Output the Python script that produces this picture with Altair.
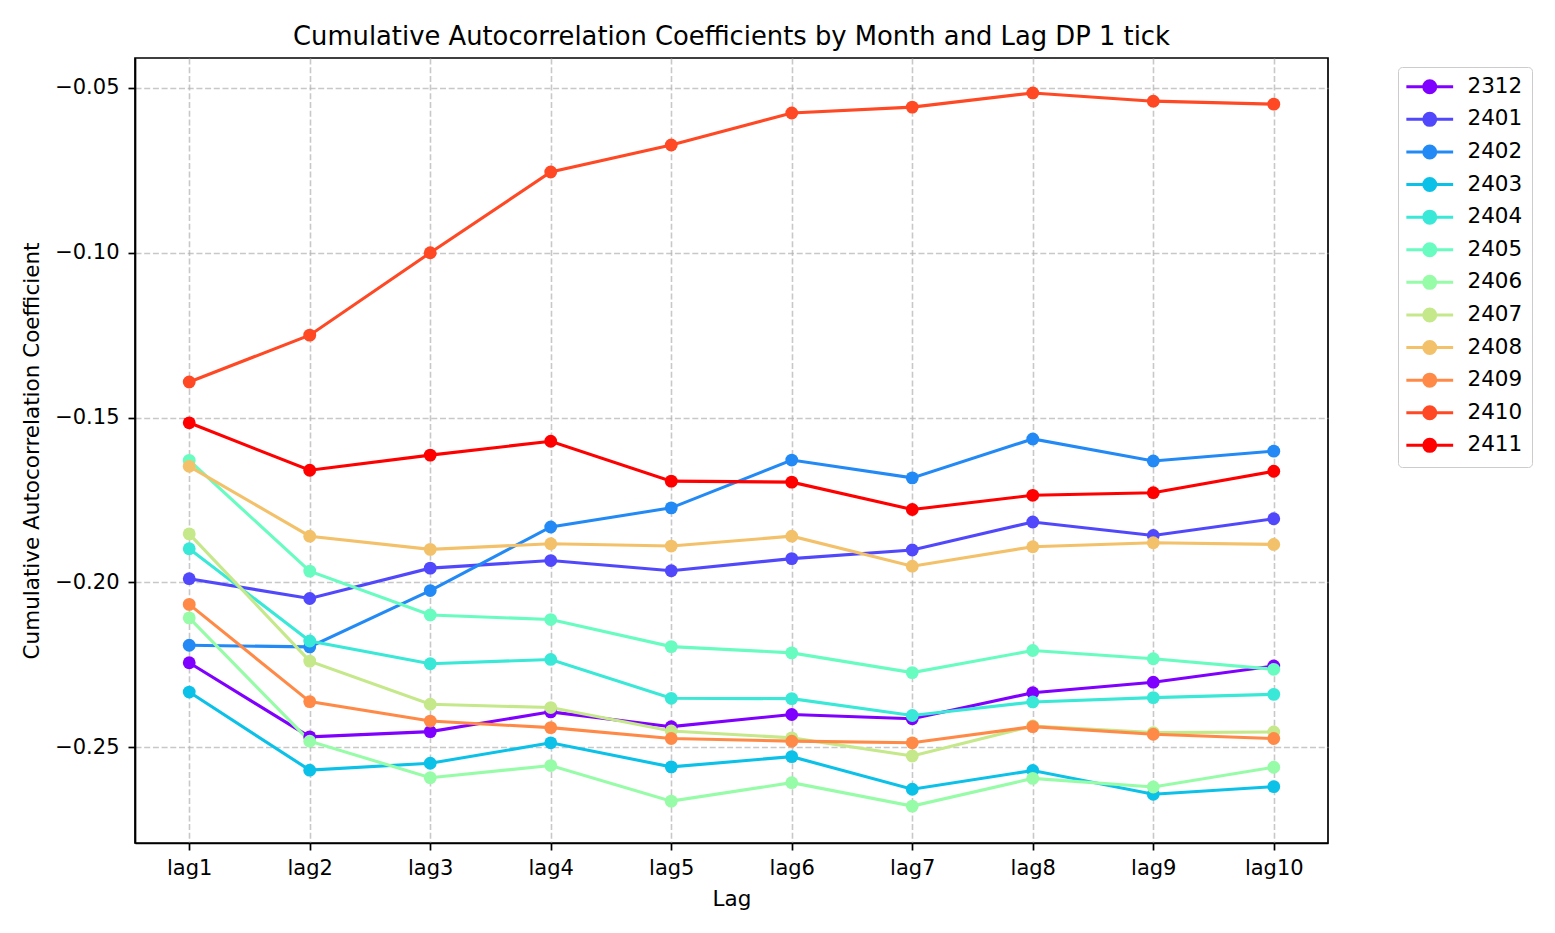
import altair as alt
import pandas as pd

months = ["2312", "2401", "2402", "2403", "2404", "2405",
          "2406", "2407", "2408", "2409", "2410", "2411"]
lags = ["lag1", "lag2", "lag3", "lag4", "lag5", "lag6", "lag7", "lag8", "lag9", "lag10"]

v2312 = [-0.2244, -0.2469, -0.2453, -0.2393, -0.2438, -0.2401, -0.2414, -0.2335, -0.2303, -0.2254]
v2401 = [-0.1989, -0.2049, -0.1957, -0.1934, -0.1965, -0.1928, -0.1902, -0.1817, -0.1858, -0.1807]
v2402 = [-0.2191, -0.2196, -0.2025, -0.1832, -0.1774, -0.1629, -0.1683, -0.1565, -0.1632, -0.1602]
v2403 = [-0.2333, -0.2570, -0.2549, -0.2487, -0.2560, -0.2529, -0.2628, -0.2571, -0.2643, -0.2620]
v2404 = [-0.1898, -0.2178, -0.2247, -0.2234, -0.2352, -0.2353, -0.2404, -0.2363, -0.2350, -0.2340]
v2405 = [-0.1630, -0.1966, -0.2099, -0.2113, -0.2195, -0.2214, -0.2274, -0.2207, -0.2232, -0.2264]
v2406 = [-0.2108, -0.2482, -0.2593, -0.2556, -0.2664, -0.2608, -0.2679, -0.2595, -0.2621, -0.2561]
v2407 = [-0.1853, -0.2239, -0.2370, -0.2380, -0.2451, -0.2472, -0.2527, -0.2436, -0.2456, -0.2454]
v2408 = [-0.1648, -0.1860, -0.1900, -0.1883, -0.1890, -0.1860, -0.1951, -0.1892, -0.1880, -0.1885]
v2409 = [-0.2067, -0.2362, -0.2421, -0.2441, -0.2474, -0.2482, -0.2487, -0.2438, -0.2461, -0.2474]
v2410 = [-0.1392, -0.1250, -0.1000, -0.0755, -0.0673, -0.0576, -0.0558, -0.0515, -0.0540, -0.0549]
v2411 = [-0.1516, -0.1660, -0.1614, -0.1572, -0.1693, -0.1696, -0.1779, -0.1736, -0.1728, -0.1663]

series = [v2312, v2401, v2402, v2403, v2404, v2405, v2406, v2407, v2408, v2409, v2410, v2411]
colors = ["#8000ff", "#5148fc", "#238af5", "#0cc1e8", "#3ae8d7", "#68fcc1",
          "#97fca7", "#c5e88a", "#f3c16a", "#ff8a48", "#ff4824", "#ff0000"]

rows = []
for m, vals in zip(months, series):
    for lag, v in zip(lags, vals):
        rows.append({"Month": m, "Lag": lag, "Value": v})
df = pd.DataFrame(rows)

FONT = "DejaVu Sans"
sym_path = "M-3.9,0H3.9M1,0A1,1 0 1,1 -1,0A1,1 0 1,1 1,0Z"


def make_legend():
    return alt.Legend(
        title=None,
        orient="none",
        legendX=1263,
        legendY=9,
        symbolType=sym_path,
        symbolSize=144,
        symbolStrokeWidth=3,
        symbolOffset=12,
        labelOffset=27,
        labelFontSize=21.5,
        labelFont=FONT,
        labelColor="#000000",
        rowPadding=7.6,
        padding=9,
        strokeColor="#cccccc",
        fillColor="#ffffff",
        cornerRadius=4,
    )


x = alt.X(
    "Lag:N",
    sort=lags,
    scale=alt.Scale(type="point", padding=0.45),
    axis=alt.Axis(title="Lag", labelAngle=0, titlePadding=10),
)
y = alt.Y(
    "Value:Q",
    scale=alt.Scale(domain=[-0.2791, -0.0409], nice=False, zero=False),
    axis=alt.Axis(title="Cumulative Autocorrelation Coefficient",
                  values=[-0.25, -0.20, -0.15, -0.10, -0.05], format=".2f",
                  labelPadding=9, titlePadding=11),
)

stroke_enc = alt.Stroke("Month:N", scale=alt.Scale(domain=months, range=colors), legend=make_legend())
fill_enc = alt.Fill("Month:N", scale=alt.Scale(domain=months, range=colors), legend=make_legend())

lines = alt.Chart(df).mark_line(strokeWidth=3.1).encode(
    x=x, y=y, stroke=stroke_enc, detail="Month:N"
)
points = alt.Chart(df).mark_point(filled=True, size=165, opacity=1, strokeWidth=0).encode(
    x=x, y=y, fill=fill_enc, stroke=stroke_enc
)

chart = alt.layer(lines, points).properties(
    width=1193,
    height=785,
    title=alt.TitleParams(
        "Cumulative Autocorrelation Coefficients by Month and Lag DP 1 tick",
        fontSize=25.8, font=FONT, fontWeight="normal", color="#000000",
        anchor="middle", offset=13, dy=26, baseline="alphabetic",
    ),
    padding={"left": 13, "top": 16, "right": 5, "bottom": 5},
).configure_view(
    stroke="#000000", strokeWidth=1.7
).configure_axis(
    labelFont=FONT, titleFont=FONT, labelFontSize=21, titleFontSize=21.5,
    labelColor="#000000", titleColor="#000000", titleFontWeight="normal",
    domainColor="#000000", domainWidth=1.7, tickColor="#000000", tickWidth=1.7,
    tickSize=7, labelPadding=7,
    grid=True, gridColor="#b0b0b0", gridOpacity=0.7, gridWidth=1.6, gridDash=[6, 2.7],
)

chart.save("out.html", embed_options={"renderer": "svg", "actions": False})
